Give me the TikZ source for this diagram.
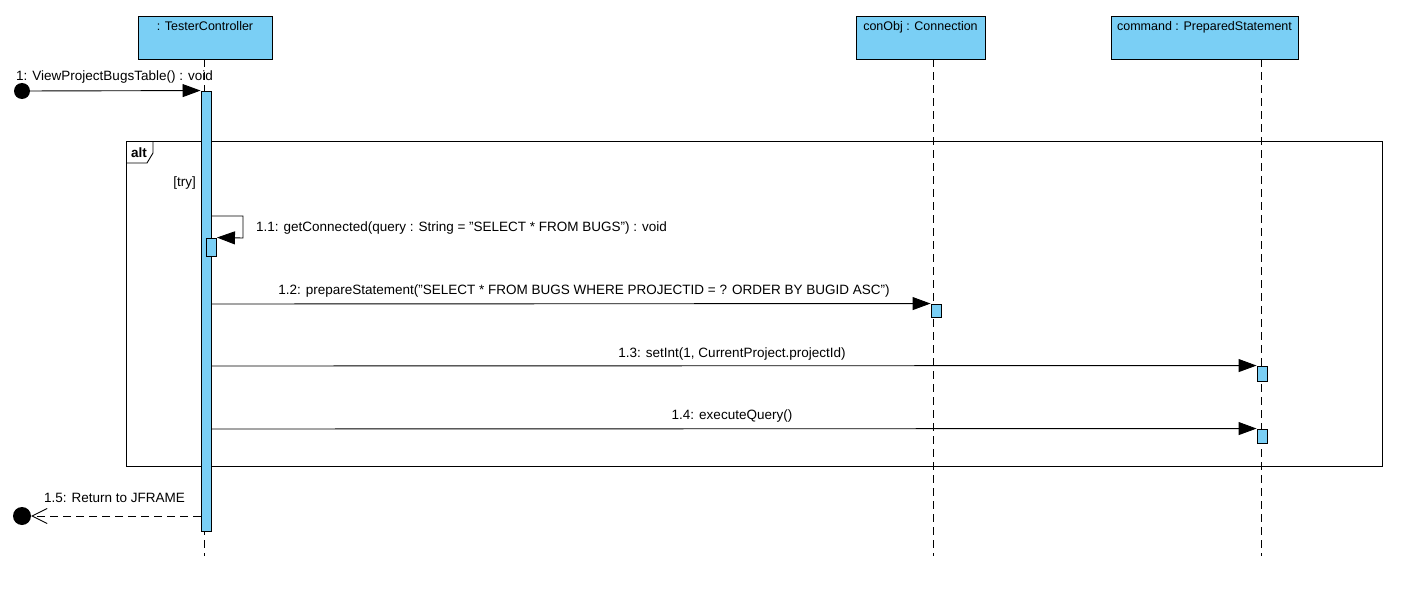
\documentclass[tikz,border=0pt]{standalone}
\usepackage{fontspec}
\setmainfont{Liberation Sans}
\usetikzlibrary{arrows.meta}
\definecolor{lifeblue}{RGB}{122,207,245}

\begin{document}
\begin{tikzpicture}[x=1pt,y=-1pt,
    every node/.style={font=\fontsize{13.5}{16}\selectfont},
    lifebox/.style={draw,fill=lifeblue,line width=0.9pt,minimum width=#1,inner xsep=0pt,
      inner ysep=6pt,text height=9pt,text depth=22pt,font=\fontsize{12.5}{15}\selectfont},
    actbar/.style={draw,fill=lifeblue,line width=0.9pt,minimum width=10pt,inner sep=0pt},
    lifeline/.style={line width=0.9pt,dash pattern=on 8pt off 5pt},
    msg/.style={line width=0.9pt,-{Triangle[length=18pt,width=13pt]}},
    retmsg/.style={line width=0.9pt,dash pattern=on 8pt off 5pt,-{Straight Barb[length=15pt,width=15pt,line width=0.9pt]}},
    msglabel/.style={inner sep=0pt}]
  \useasboundingbox (0,0) rectangle (1425,610);
  % objects and lifelines
  \node[lifebox=134pt] (tc) at (205,37.5) {: TesterController};
  \node[lifebox=129pt] (con) at (920.5,37.5) {conObj : Connection};
  \node[lifebox=187pt] (cmd) at (1204.5,37.5) {command : PreparedStatement};
  \coordinate (tcend) at (204,556);
  \coordinate (conend) at (933,556);
  \coordinate (cmdend) at (1261,556);
  \draw[lifeline] (tc.south -| tcend) -- (tcend);
  \draw[lifeline] (con.south -| conend) -- (conend);
  \draw[lifeline] (cmd.south -| cmdend) -- (cmdend);
  % alt frame
  \draw[line width=0.9pt] (126,141) rectangle (1382,466);
  \draw[line width=0.9pt] (126,163) -- (147,163) -- (153,153) -- (153,141);
  \node[msglabel,anchor=base west,font=\fontsize{13.5}{16}\selectfont\bfseries] (alt) at (131,157) {alt};
  \node[msglabel,anchor=base east] (try) at (196,186) {[try]};
  % activations
  \node[actbar,minimum height=440pt] (act0) at (206,311) {};
  \node[actbar,minimum height=18pt] (act1) at (211.5,247) {};
  \node[actbar,minimum height=13pt] (act2) at (936,310.5) {};
  \node[actbar,minimum height=15pt] (act3) at (1262,373.5) {};
  \node[actbar,minimum height=14pt] (act4) at (1262,436) {};
  % found message
  \node[circle,fill=black,minimum size=16pt,inner sep=0pt] (start) at (22,91) {};
  \node[msglabel,anchor=base west] (l1) at (16,81) {1: ViewProjectBugsTable() : void};
  \draw[msg] (start.center) -- (act0.north west);
  % self message
  \coordinate (s1) at (211,216);
  \coordinate (s1a) at (243,216);
  \coordinate (s1b) at (243,238);
  \draw[msg] (s1) -- (s1a) -- (s1b) -- (act1.north east);
  \node[msglabel,anchor=base west] (l11) at (256,231) {1.1: getConnected(query : String = "SELECT * FROM BUGS") : void};
  % calls
  \coordinate (s2) at (211,304);
  \coordinate (s3) at (211,366);
  \coordinate (s4) at (211,429);
  \draw[msg] (s2) -- (act2.north west);
  \draw[msg] (s3) -- (act3.north west);
  \draw[msg] (s4) -- (act4.north west);
  \node[msglabel,anchor=base] (l12) at (584,294) {1.2: prepareStatement("SELECT * FROM BUGS WHERE PROJECTID = ? ORDER BY BUGID ASC")};
  \node[msglabel,anchor=base] (l13) at (732,357) {1.3: setInt(1, CurrentProject.projectId)};
  \node[msglabel,anchor=base] (l14) at (732,419) {1.4: executeQuery()};
  % return
  \coordinate (s5) at (201,516);
  \node[circle,fill=black,minimum size=18pt,inner sep=0pt] (stop) at (22,516) {};
  \draw[retmsg] (s5) -- (stop.east);
  \node[msglabel,anchor=base west] (l15) at (44,502) {1.5: Return to JFRAME};
\end{tikzpicture}
\end{document}
